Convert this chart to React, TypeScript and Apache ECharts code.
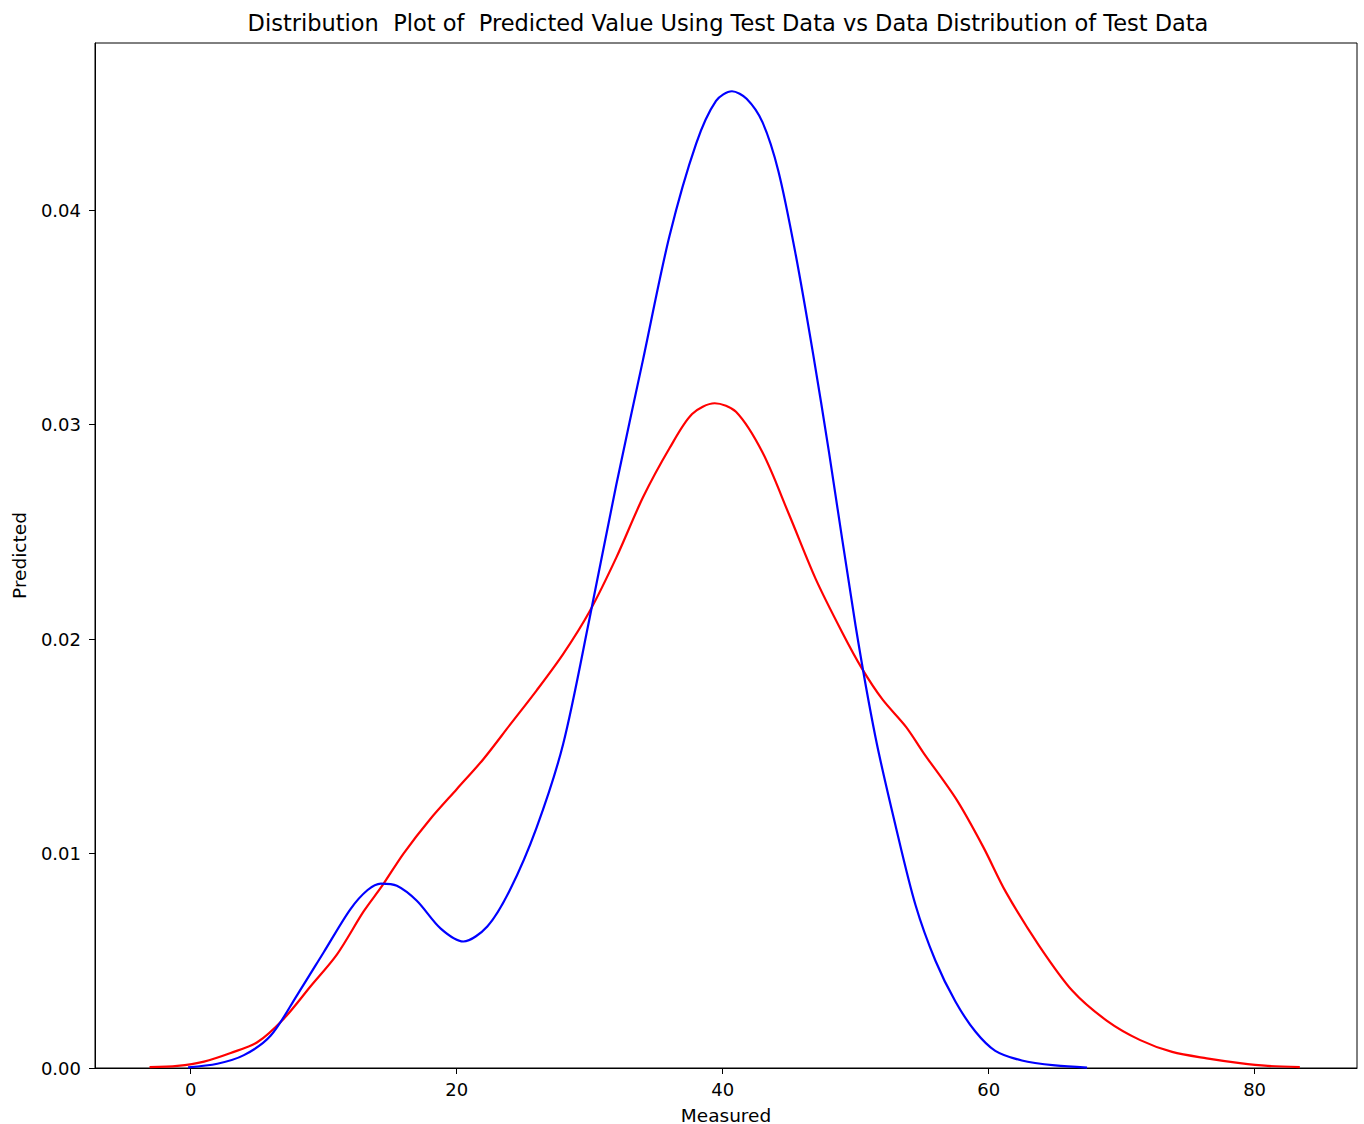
import React, { useEffect, useRef } from "react";
import * as echarts from "echarts";

const titleText =
  "Distribution  Plot of  Predicted Value Using Test Data vs Data Distribution of Test Data";
const xAxisName = "Measured";
const yAxisName = "Predicted";

const xTicks = [0, 20, 40, 60, 80];
const yTicks = [0, 0.01, 0.02, 0.03, 0.04];

// Red curve (actual test data distribution)
const redX = [
  -3.1, -1, 1, 3, 5, 7, 9, 11, 13, 14.4, 16, 18, 20, 22, 24, 26, 28, 30, 32, 34, 36,
  37.7, 39.4, 41, 43, 45, 47, 49, 50.5, 52, 53.8, 55.1, 57.6, 59.6, 61.3, 63.8, 66.3,
  68.9, 71.4, 73.8, 76.4, 78.9, 81, 83.4,
];
const redY = [
  0.00004, 0.0001, 0.0003, 0.0007, 0.0012, 0.0023, 0.0038, 0.0053, 0.0073, 0.0085, 0.01,
  0.0116, 0.013, 0.0144, 0.016, 0.0176, 0.0193, 0.0213, 0.0238, 0.0266, 0.0289, 0.0305,
  0.031, 0.0306, 0.0287, 0.0258, 0.0228, 0.0203, 0.0186, 0.0172, 0.0159, 0.0147, 0.0125,
  0.0103, 0.0082, 0.0057, 0.0036, 0.0022, 0.0013, 0.00075, 0.00045, 0.00023, 0.0001,
  0.00004,
];

// Blue curve (predicted values distribution)
const blueX = [
  -0.2, 2, 4, 6, 8, 10, 12, 13.3, 14.3, 15.5, 17, 18.8, 20.5, 22.3, 24, 26, 28, 30, 32,
  34, 36, 38, 39.5, 40.7, 41.8, 43, 44.2, 45.5, 46.8, 48, 50, 51.5, 53, 54.5, 56, 57.5,
  59, 60.5, 62.5, 65, 67.4,
];
const blueY = [
  0.00003, 0.0002, 0.0006, 0.0015, 0.0034, 0.0054, 0.0074, 0.0083, 0.0086, 0.0085,
  0.0078, 0.0065, 0.0059, 0.0066, 0.0083, 0.0112, 0.0151, 0.021, 0.0272, 0.033, 0.0388,
  0.0431, 0.0451, 0.04555, 0.0452, 0.0441, 0.0418, 0.0379, 0.0333, 0.0287, 0.0206,
  0.0154, 0.0113, 0.0076, 0.005, 0.0031, 0.0017, 0.0008, 0.00035, 0.00012, 0.00002,
];

const FONT = "DejaVu Sans";

export default function App() {
  const ref = useRef<HTMLDivElement>(null);
  useEffect(() => {
    if (!ref.current) return;
    const chart = echarts.init(ref.current, undefined, { renderer: "svg" });
    const red = redX.map((x, i) => [x, redY[i]]);
    const blue = blueX.map((x, i) => [x, blueY[i]]);
    chart.setOption({
      animation: false,
      backgroundColor: "#ffffff",
      title: {
        text: titleText,
        left: 723,
        textAlign: "center",
        top: 6,
        textStyle: { fontFamily: FONT, fontSize: 22.5, fontWeight: "normal", color: "#000" },
      },
      grid: {
        left: 95,
        right: 7,
        top: 43,
        bottom: 56,
        outerBoundsMode: "none",
        containLabel: false,
        show: true,
        borderColor: "#000",
        borderWidth: 1,
        backgroundColor: "transparent",
      },
      xAxis: {
        type: "value",
        min: -7.2,
        max: 87.7,
        name: xAxisName,
        nameLocation: "middle",
        nameGap: 38,
        nameTextStyle: { fontFamily: FONT, fontSize: 18.5, lineHeight: 18, color: "#000" },
        axisLine: { show: true, onZero: false, lineStyle: { color: "#000", width: 1 } },
        axisTick: { show: true, length: 6, lineStyle: { color: "#000" }, customValues: xTicks },
        axisLabel: {
          fontFamily: FONT,
          fontSize: 18,
          color: "#000",
          margin: 12.5,
          customValues: xTicks,
          formatter: (v: number) => String(v),
        },
        splitLine: { show: false },
      },
      yAxis: {
        type: "value",
        min: 0,
        max: 0.0478,
        name: yAxisName,
        nameLocation: "middle",
        nameGap: 66,
        nameTextStyle: { fontFamily: FONT, fontSize: 18.5, color: "#000" },
        axisLine: { show: true, onZero: false, lineStyle: { color: "#000", width: 1 } },
        axisTick: { show: true, length: 6, lineStyle: { color: "#000" }, customValues: yTicks },
        axisLabel: {
          fontFamily: FONT,
          fontSize: 18,
          color: "#000",
          margin: 14,
          customValues: yTicks,
          formatter: (v: number) => v.toFixed(2),
        },
        splitLine: { show: false },
      },
      series: [
        {
          name: "Actual Values",
          type: "line",
          data: red,
          smooth: 0.3,
          showSymbol: false,
          lineStyle: { color: "#ff0000", width: 2.2 },
          itemStyle: { color: "#ff0000" },
          z: 2,
        },
        {
          name: "Fitted Values",
          type: "line",
          data: blue,
          smooth: 0.3,
          showSymbol: false,
          lineStyle: { color: "#0000ff", width: 2.2 },
          itemStyle: { color: "#0000ff" },
          z: 3,
        },
      ],
    });
    return () => chart.dispose();
  }, []);
  return (
    <div
      ref={ref}
      style={{ position: "absolute", left: 0, top: 0, width: 1364, height: 1124, background: "#fff" }}
    />
  );
}
